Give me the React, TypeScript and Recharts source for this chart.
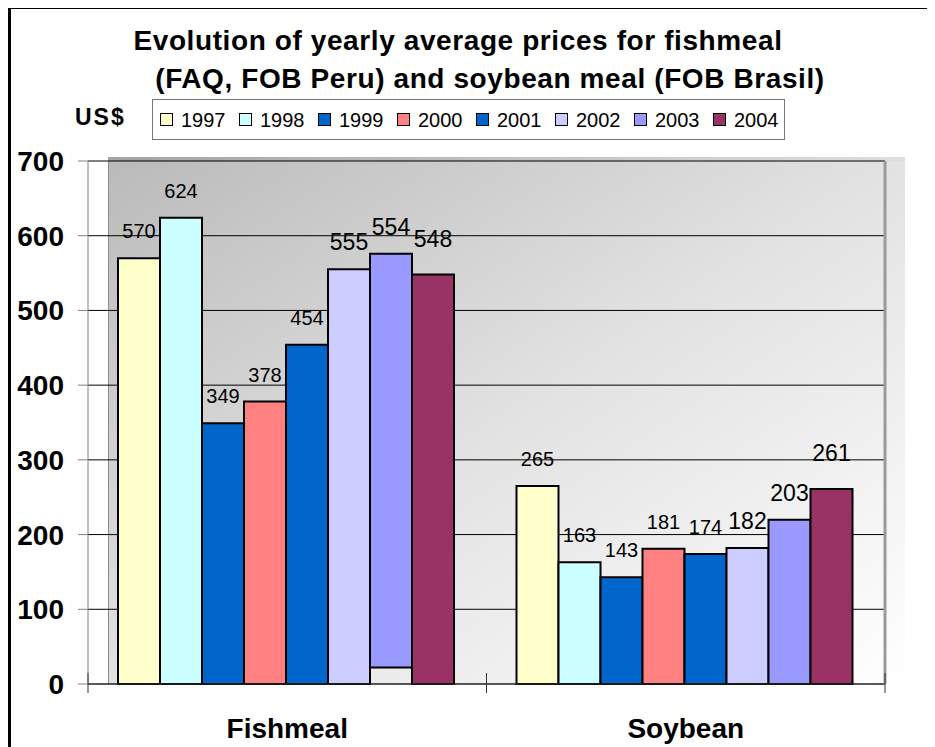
import React from 'react';
import { BarChart, Bar, XAxis, YAxis, CartesianGrid, LabelList } from 'recharts';

const FONT = "'Liberation Sans', Arial, Helvetica, sans-serif";

const categories = ['Fishmeal', 'Soybean'];
const years = ['1997', '1998', '1999', '2000', '2001', '2002', '2003', '2004'];
const barColors = ['#FFFFCC', '#CCFFFF', '#0066CC', '#FF8080', '#0066CC', '#CCCCFF', '#9999FF', '#993366'];

// bar heights as drawn (the 2003 bars float a little above the floor)
const fishmealPrices: (number | number[])[] = [570, 624, 349, 378, 454, 555, [22, 576], 548];
const soybeanPrices: (number | number[])[] = [265, 163, 143, 181, 174, 182, [0, 220], 261];

// data labels as printed on the chart
const fishmealLabels = ['570', '624', '349', '378', '454', '555', '554', '548'];
const soybeanLabels = ['265', '163', '143', '181', '174', '182', '203', '261'];

const yTicks = [0, 100, 200, 300, 400, 500, 600, 700];

const seriesValues = [fishmealPrices, soybeanPrices];
const seriesLabels = [fishmealLabels, soybeanLabels];

const data = categories.map((name, c) => {
  const row: Record<string, any> = { name };
  years.forEach((y, i) => {
    row[y] = seriesValues[c][i];
    row['label' + y] = seriesLabels[c][i];
  });
  return row;
});

const labelSize: Record<string, number> = { '2002': 23, '2003': 23, '2004': 23 };
const labelLift: Record<string, number> = { '2004': 36 };

const makeLabel = (year: string) => (props: any) => {
  const { x, y, width, value } = props;
  const cx = Number(x) + Number(width) / 2;
  const top = Number(y) - (labelLift[year] ?? 27);
  return (
    <text
      x={cx}
      y={top}
      dy="0.35em"
      textAnchor="middle"
      fontFamily={FONT}
      fontSize={labelSize[year] ?? 20}
      fill="#000"
    >
      {value}
    </text>
  );
};

const PLOT_W = 797;
const HALF_BAND = PLOT_W / categories.length / 2;

function CategoryTick(props: any) {
  const { x, y, payload } = props;
  return (
    <g>
      <line x1={x - HALF_BAND} x2={x - HALF_BAND} y1={y - 11} y2={y + 9} stroke="#333" />
      <line x1={x + HALF_BAND} x2={x + HALF_BAND} y1={y - 11} y2={y + 9} stroke="#333" />
      <text
        x={x}
        y={y + 54}
        textAnchor="middle"
        fontFamily={FONT}
        fontSize={28}
        fontWeight={700}
        fill="#000"
      >
        {payload.value}
      </text>
    </g>
  );
}

export default function App() {
  return (
    <div style={{ position: 'relative', width: 927, height: 739, fontFamily: FONT }}>
      <style>{'html,body{overflow:hidden}'}</style>

      {/* outer frame */}
      <div
        style={{
          position: 'absolute',
          left: -1,
          top: -3,
          width: 930,
          height: 738,
          borderLeft: '4px solid #000',
          borderTop: '4px solid #000',
          borderBottom: '2px solid #999',
        }}
      />

      {/* back wall */}
      <div
        style={{
          position: 'absolute',
          left: 100,
          top: 149,
          width: 797,
          height: 527,
          background: 'linear-gradient(to bottom right, #bababa 0%, #e2e2e2 50%, #ffffff 100%)',
          borderLeft: '1px solid #8a8a8a',
          boxSizing: 'border-box',
        }}
      />
      <div
        style={{
          position: 'absolute',
          left: 100,
          top: 149,
          width: 797,
          height: 4,
          background: 'linear-gradient(to right, #a4a4a4, #dedede)',
        }}
      />

      <div
        style={{
          position: 'absolute',
          left: 50,
          top: 19,
          width: 800,
          textAlign: 'center',
          fontSize: 28,
          lineHeight: '28px',
          fontWeight: 700,
          letterSpacing: 0.6,
          whiteSpace: 'nowrap',
        }}
      >
        Evolution of yearly average prices for fishmeal
      </div>
      <div
        style={{
          position: 'absolute',
          left: 82,
          top: 57,
          width: 800,
          textAlign: 'center',
          fontSize: 28,
          lineHeight: '28px',
          fontWeight: 700,
          letterSpacing: 0.6,
          whiteSpace: 'nowrap',
        }}
      >
        (FAQ, FOB Peru) and soybean meal (FOB Brasil)
      </div>

      <div
        style={{
          position: 'absolute',
          left: 67,
          top: 98,
          fontSize: 23,
          lineHeight: '23px',
          fontWeight: 700,
          letterSpacing: 2,
        }}
      >
        US$
      </div>

      {/* legend */}
      <div
        style={{
          position: 'absolute',
          left: 144,
          top: 91,
          width: 633,
          height: 41,
          boxSizing: 'border-box',
          border: '1px solid #777',
          background: '#fff',
          display: 'flex',
          alignItems: 'center',
          paddingLeft: 7,
        }}
      >
        {years.map((y, i) => (
          <div key={y} style={{ display: 'flex', alignItems: 'center', width: 79, flex: 'none' }}>
            <span
              style={{
                display: 'inline-block',
                width: 11,
                height: 11,
                border: '1px solid #000',
                background: barColors[i],
                marginRight: 8,
              }}
            />
            <span style={{ fontSize: 20, lineHeight: '20px' }}>{y}</span>
          </div>
        ))}
      </div>

      <BarChart
        width={927}
        height={739}
        data={data}
        margin={{ top: 153, right: 30, bottom: 0, left: 0 }}
        barCategoryGap={30}
        barGap={0}
      >
        <CartesianGrid vertical={false} stroke="#000" />
        <XAxis
          dataKey="name"
          height={63}
          axisLine={{ stroke: '#333', strokeWidth: 1 }}
          tickLine={false}
          tickSize={0}
          tickMargin={0}
          tick={<CategoryTick />}
          interval={0}
        />
        <YAxis
          width={80}
          domain={[0, 700]}
          ticks={yTicks}
          interval={0}
          axisLine={{ stroke: '#808080' }}
          tickLine={{ stroke: '#808080' }}
          tickSize={10}
          tickMargin={14}
          tick={{ fill: '#000', fontSize: 28, fontWeight: 700, fontFamily: FONT }}
        />
        <YAxis
          yAxisId="r"
          orientation="right"
          width={20}
          type="number"
          domain={[0, 700]}
          axisLine={{ stroke: '#9a9a9a', strokeWidth: 3 }}
          tick={false}
          tickLine={false}
        />
        {years.map((y, i) => (
          <Bar
            key={y}
            dataKey={y}
            fill={barColors[i]}
            stroke="#000"
            strokeWidth={2}
            isAnimationActive={false}
          >
            <LabelList dataKey={'label' + y} content={makeLabel(y)} />
          </Bar>
        ))}
      </BarChart>
    </div>
  );
}
